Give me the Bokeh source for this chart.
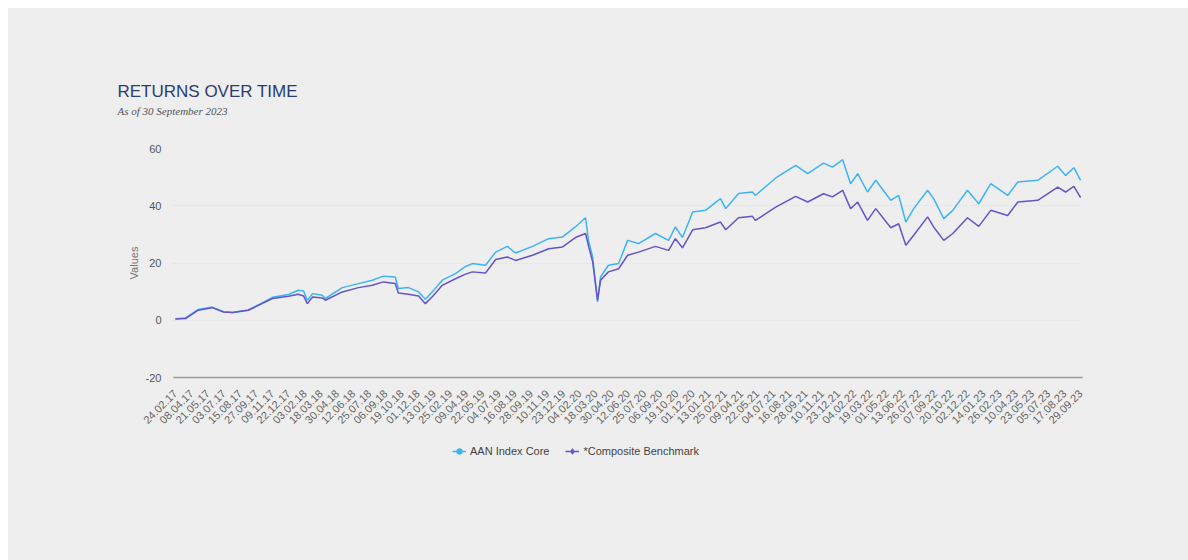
from math import pi
from bokeh.plotting import figure
from bokeh.layouts import column
from bokeh.models import (Range1d, FixedTicker, Legend, LegendItem, Title, ColumnDataSource)
from bokeh.embed import file_html
from bokeh.resources import INLINE

reading_days = [0, 27, 61, 98, 128, 152, 194, 221, 258, 301, 327, 341, 351, 365, 391, 399,
                444, 487, 524, 553, 585, 593, 620, 647, 665, 684, 710, 745, 772, 790, 825,
                852, 883, 905, 950, 993, 1030, 1064, 1091, 1099, 1110, 1123, 1131, 1152,
                1179, 1203, 1232, 1277, 1312, 1330, 1349, 1376, 1410, 1450, 1464, 1498,
                1535, 1543, 1597, 1650, 1682, 1724, 1748, 1775, 1796, 1815, 1841, 1863,
                1903, 1924, 1943, 1964, 2001, 2017, 2044, 2068, 2107, 2137, 2169, 2214,
                2241, 2294, 2347, 2368, 2390, 2408]

aan_index_core = [0.5, 0.8, 3.8, 4.6, 3.0, 2.7, 3.6, 5.4, 8.0, 9.0, 10.5, 10.2, 7.0, 9.3, 8.7, 7.6,
                  11.4, 12.8, 14.0, 15.4, 15.1, 11.1, 11.4, 9.9, 7.3, 10.0, 14.0, 16.3, 18.8, 19.8, 19.2,
                  23.8, 25.8, 23.5, 25.8, 28.5, 29.1, 32.6, 35.8, 27.9, 22.1, 6.4, 15.1, 19.2,
                  19.8, 27.9, 26.8, 30.3, 27.9, 32.6, 28.9, 37.8, 38.4, 42.5, 39.0, 44.3,
                  44.8, 43.6, 49.7, 54.1, 51.2, 54.9, 53.5, 56.1, 47.7, 51.2, 44.8, 48.9,
                  41.9, 43.6, 34.3, 39.0, 45.4, 42.5, 35.5, 38.4, 45.4, 40.7, 47.7, 43.6,
                  48.3, 48.9, 53.8, 50.6, 53.3, 48.9]

composite_benchmark = [0.4, 0.6, 3.5, 4.4, 2.9, 2.7, 3.5, 5.2, 7.6, 8.4, 9.1, 8.5, 5.8, 8.1, 7.8, 7.0,
                       9.9, 11.4, 12.2, 13.4, 12.8, 9.5, 9.1, 8.5, 5.8, 8.3, 12.2, 14.5, 16.1, 16.9, 16.5,
                       21.2, 22.1, 20.9, 22.7, 25.0, 25.6, 28.9, 30.3, 26.0, 20.4, 7.0, 14.0, 16.9,
                       18.0, 22.7, 23.8, 25.8, 24.4, 28.5, 25.3, 31.6, 32.3, 34.3, 31.6, 35.8,
                       36.3, 34.9, 39.5, 43.3, 41.3, 44.2, 43.1, 45.4, 39.0, 41.3, 34.9, 39.0,
                       32.3, 33.7, 26.2, 29.7, 36.1, 32.6, 27.9, 30.3, 35.8, 32.8, 38.4, 36.6,
                       41.3, 41.9, 46.5, 44.8, 46.8, 42.8]

tick_labels = ["24.02.17", "08.04.17", "21.05.17", "03.07.17", "15.08.17", "27.09.17", "09.11.17",
               "22.12.17", "03.02.18", "18.03.18", "30.04.18", "12.06.18", "25.07.18", "06.09.18",
               "19.10.18", "01.12.18", "13.01.19", "25.02.19", "09.04.19", "22.05.19", "04.07.19",
               "16.08.19", "28.09.19", "10.11.19", "23.12.19", "04.02.20", "18.03.20", "30.04.20",
               "12.06.20", "25.07.20", "06.09.20", "19.10.20", "01.12.20", "13.01.21", "25.02.21",
               "09.04.21", "22.05.21", "04.07.21", "16.08.21", "28.09.21", "10.11.21", "23.12.21",
               "04.02.22", "19.03.22", "01.05.22", "13.06.22", "26.07.22", "07.09.22", "20.10.22",
               "02.12.22", "14.01.23", "26.02.23", "10.04.23", "23.05.23", "05.07.23", "17.08.23",
               "29.09.23"]
tick_step_days = 43
y_ticks = [-20, 0, 20, 40, 60]

series_names = ["AAN Index Core", "*Composite Benchmark"]
colors = ["#3cb4f6", "#6454c8"]
title_text = "RETURNS OVER TIME"
subtitle_text = "As of 30 September 2023"

BG = "#eeeeee"
FONT = "Liberation Sans"

p = figure(width=1180, height=425, output_backend="svg", toolbar_location=None,
           x_range=Range1d(-5, 2413), y_range=Range1d(-20, 60),
           min_border_left=165, min_border_right=106, min_border_top=140, min_border_bottom=56)
p.background_fill_color = BG
p.border_fill_color = BG
p.outline_line_color = None

src = ColumnDataSource(dict(x=reading_days, a=aan_index_core, c=composite_benchmark))
p.line("x", "a", source=src, line_color=colors[0], line_width=1.5)
p.line("x", "c", source=src, line_color=colors[1], line_width=1.5)

# axes
tick_pos = [k * tick_step_days for k in range(len(tick_labels))]
xa = p.xaxis[0]
xa.ticker = FixedTicker(ticks=tick_pos)
xa.major_label_overrides = {t: lab for t, lab in zip(tick_pos, tick_labels)}
xa.major_label_orientation = pi / 4
xa.major_label_text_font = FONT
xa.major_label_text_font_size = "11px"
xa.major_label_text_color = "#666666"
xa.major_tick_line_color = None
xa.minor_tick_line_color = None
xa.axis_line_color = "#9a9a9a"
xa.axis_line_width = 1.5
xa.major_label_standoff = 8

ya = p.yaxis[0]
ya.ticker = FixedTicker(ticks=y_ticks)
ya.major_label_overrides = {v: str(v) for v in y_ticks}
ya.major_label_text_font = FONT
ya.major_label_text_font_size = "11px"
ya.major_label_text_color = "#555555"
ya.major_tick_line_color = None
ya.minor_tick_line_color = None
ya.axis_line_color = None
ya.major_label_standoff = 6
ya.axis_label = "Values"
ya.axis_label_text_font = FONT
ya.axis_label_text_font_size = "11px"
ya.axis_label_text_font_style = "normal"
ya.axis_label_text_color = "#777777"
ya.axis_label_standoff = 3

p.xgrid.grid_line_color = None
p.ygrid.grid_line_color = "#e2e2e2"
p.ygrid.grid_line_dash = "2 2"

# titles (first added sits closest to the plot)
p.add_layout(Title(text=subtitle_text, align="left", offset=-56, standoff=64,
                   text_font="Liberation Serif", text_font_style="italic",
                   text_font_size="11px", text_color="#555555"), "above")
p.add_layout(Title(text=title_text, align="left", offset=-56, standoff=-60,
                   text_font=FONT, text_font_style="normal",
                   text_font_size="17px", text_color="#2b3d70"), "above")

# legend strip below the chart
pl = figure(width=1180, height=127, output_backend="svg", toolbar_location=None,
            x_range=Range1d(0, 1), y_range=Range1d(0, 1),
            min_border_left=165, min_border_right=106, min_border_top=0, min_border_bottom=0,
            x_axis_type=None, y_axis_type=None)
pl.background_fill_color = BG
pl.border_fill_color = BG
pl.outline_line_color = None
pl.grid.grid_line_color = None
hidden = ColumnDataSource(dict(x=[-10], y=[-10]))
l1 = pl.line("x", "y", source=hidden, line_color=colors[0], line_width=1.5)
s1 = pl.scatter("x", "y", source=hidden, marker="circle", size=6, fill_color=colors[0], line_color=colors[0])
l2 = pl.line("x", "y", source=hidden, line_color=colors[1], line_width=1.5)
s2 = pl.scatter("x", "y", source=hidden, marker="diamond", size=8, fill_color=colors[1], line_color=colors[1])

legend = Legend(items=[LegendItem(label=series_names[0], renderers=[l1, s1]),
                       LegendItem(label=series_names[1], renderers=[l2, s2])],
                orientation="horizontal", location=(279, 102),
                label_text_font=FONT, label_text_font_size="11px", label_text_color="#444444",
                background_fill_alpha=0, border_line_color=None, padding=5,
                glyph_width=14, glyph_height=14, label_standoff=4, spacing=16, margin=0)
pl.add_layout(legend, "center")

layout = column(p, pl, spacing=0, margin=(8, 0, 0, 8), styles={"background-color": BG})

open("out.html", "w").write(file_html(layout, INLINE))
